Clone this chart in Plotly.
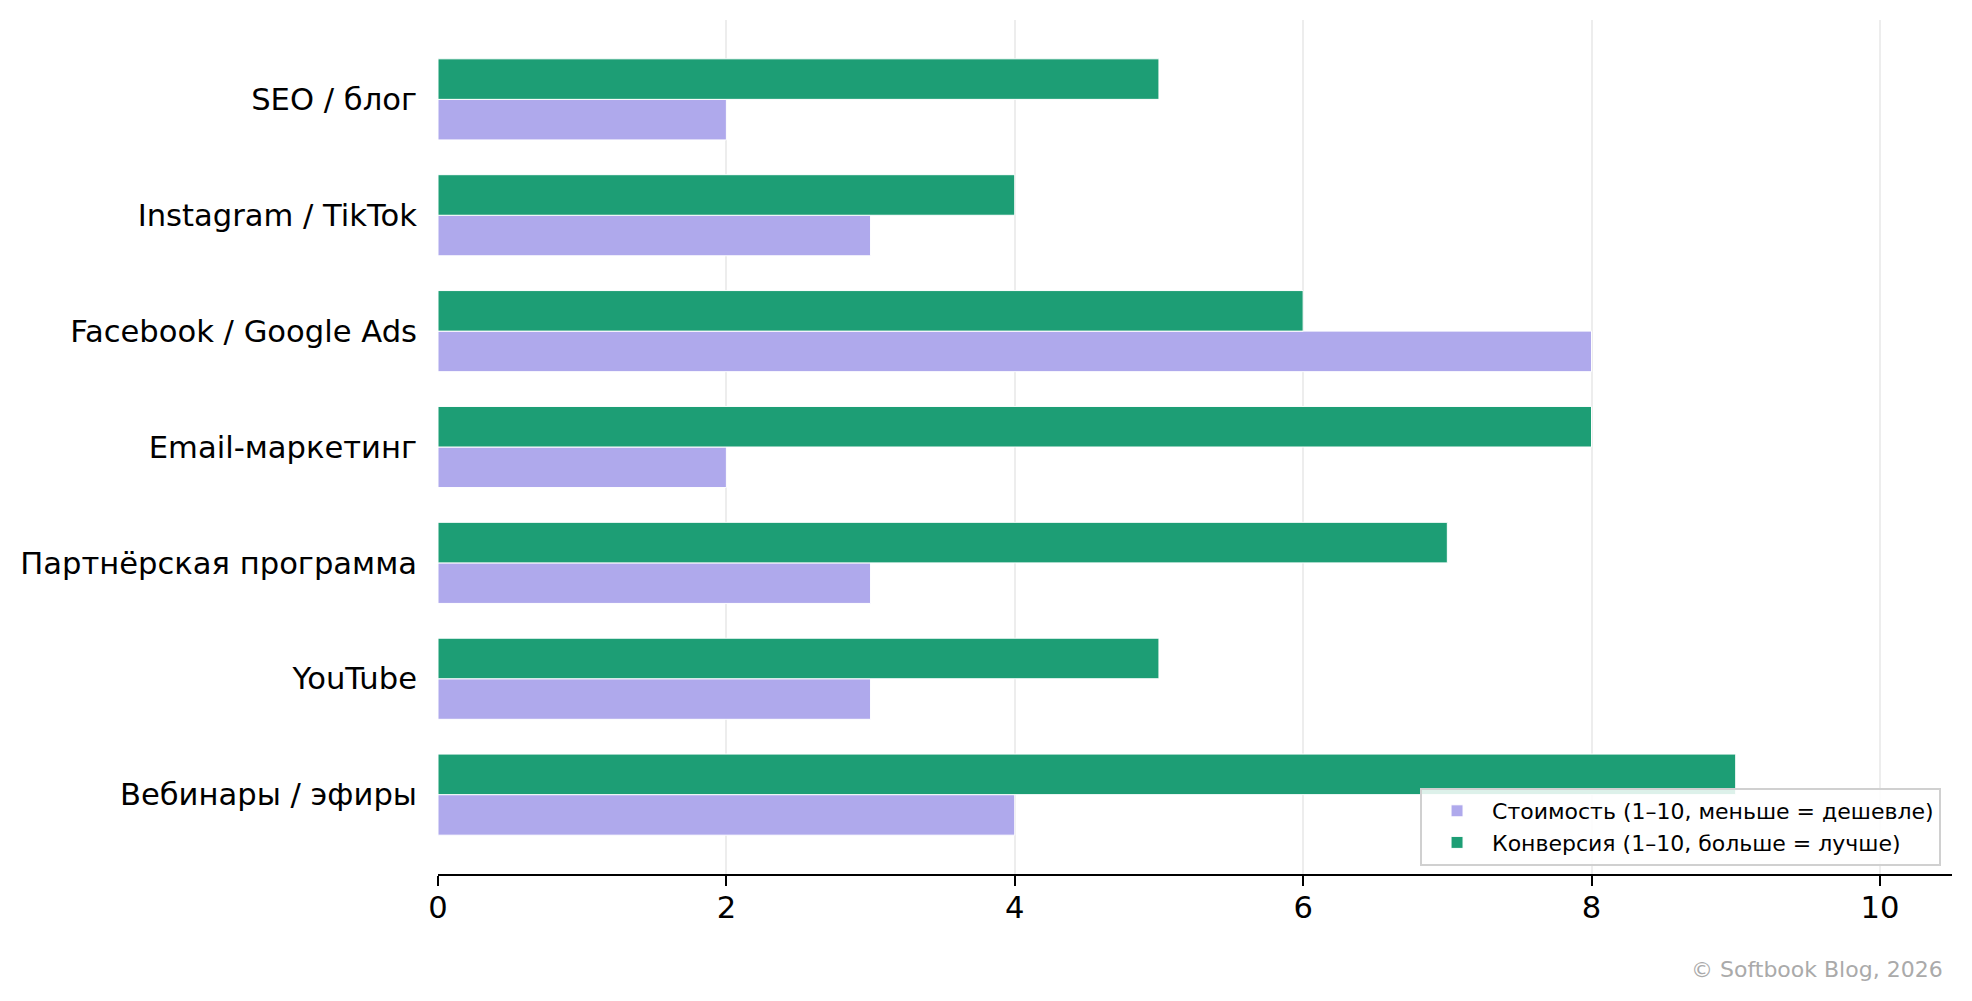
import plotly.graph_objects as go

# Categories listed bottom-up (first at the bottom of the axis)
categories = [
    "Вебинары / эфиры",
    "YouTube",
    "Партнёрская программа",
    "Email-маркетинг",
    "Facebook / Google Ads",
    "Instagram / TikTok",
    "SEO / блог",
]
cost_values = [4, 3, 3, 2, 8, 3, 2]
conversion_values = [9, 5, 7, 8, 6, 4, 5]
x_ticks = [0, 2, 4, 6, 8, 10]

cost_name = "Стоимость (1–10, меньше = дешевле)"
conv_name = "Конверсия (1–10, больше = лучше)"

W, H = 1972, 1001
OFF = 8  # page body margin
L, T = 433 - OFF, 20 - OFF
R, B = W - (1952 - OFF), H - (874 - OFF)
PW, PH = W - L - R, H - T - B

fig = go.Figure()
fig.add_trace(go.Bar(
    y=categories, x=cost_values, orientation="h", name=cost_name,
    width=0.35, offset=-0.35,
    marker=dict(color="#AFA9EC", line=dict(color="white", width=1)),
))
fig.add_trace(go.Bar(
    y=categories, x=conversion_values, orientation="h", name=conv_name,
    width=0.35, offset=0.0,
    marker=dict(color="#1D9E75", line=dict(color="white", width=1)),
))

font_family = "DejaVu Sans"

fig.update_layout(
    width=W, height=H,
    margin=dict(l=L, r=R, t=T, b=B, pad=0),
    paper_bgcolor="white", plot_bgcolor="white",
    barmode="overlay",
    font=dict(family=font_family, color="black", size=30.6),
    showlegend=True,
    legend=dict(
        x=(1941 - 433) / PW, y=(874 - 866) / PH,
        xanchor="right", yanchor="bottom",
        bgcolor="rgba(255,255,255,0.85)",
        bordercolor="#d0d0d0", borderwidth=2,
        font=dict(family=font_family, size=22, color="black"),
        traceorder="normal",
        itemwidth=60,
    ),
    xaxis=dict(
        range=[0, 10.5],
        tickvals=x_ticks,
        ticktext=[str(v) for v in x_ticks],
        showgrid=True, gridcolor="rgba(0,0,0,0.07)", gridwidth=2,
        zeroline=False,
        showline=True, linecolor="black", linewidth=2,
        ticks="outside", ticklen=10, tickwidth=2, tickcolor="black",
        ticklabelstandoff=-5,
        tickfont=dict(family=font_family, size=30.6, color="black"),
        layer="above traces",
        fixedrange=True,
    ),
    yaxis=dict(
        categoryorder="array", categoryarray=categories,
        range=[-0.685, 6.685],
        showgrid=False, zeroline=False, showline=False,
        ticks="", ticklabelstandoff=20,
        tickfont=dict(family=font_family, size=30.6, color="black"),
        fixedrange=True,
    ),
    annotations=[dict(
        text="© Softbook Blog, 2026",
        xref="paper", yref="paper",
        x=(1945 - 433) / PW, y=(874 - 970) / PH,
        xanchor="right", yanchor="middle",
        showarrow=False,
        font=dict(family=font_family, size=22, color="#aaaaaa"),
    )],
)

fig.write_html("out.html")
